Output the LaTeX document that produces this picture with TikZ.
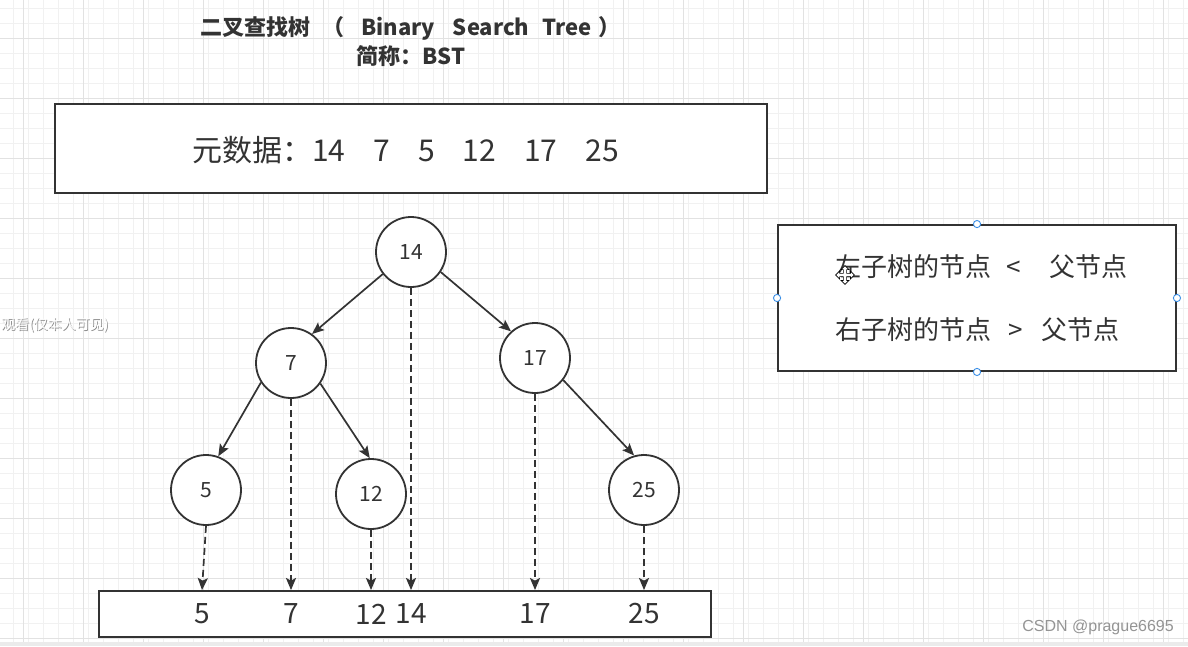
\documentclass[tikz,border=0pt]{standalone}
\usepackage{fontspec}
\setmainfont{Noto Sans CJK SC}
\newfontfamily\arialf{Liberation Sans}
\usetikzlibrary{arrows.meta}
\definecolor{ink}{HTML}{333333}
\definecolor{gridminor}{HTML}{F1F1F1}
\definecolor{gridmajor}{HTML}{E2E2E2}
\definecolor{handle}{HTML}{3A8EE6}
\begin{document}
\begin{tikzpicture}[x=1pt,y=-1pt,
  tnode/.style={circle, draw=ink, line width=1.8pt, fill=white, minimum size=70pt, inner sep=0pt, text=ink, font=\fontsize{21}{21}\selectfont},
  box/.style={draw=ink, line width=1.9pt, fill=white, inner sep=0pt},
  edge/.style={-{Stealth[length=12pt,width=10pt,inset=2.5pt]}, draw=ink, line width=1.7pt},
  dedge/.style={edge, dash pattern=on 7pt off 4pt},
  bnum/.style={text=ink, font=\fontsize{28}{28}\selectfont, inner sep=0pt},
  ttl/.style={text=ink, font=\bfseries\fontsize{22}{22}\selectfont, inner sep=0pt},
  hdl/.style={draw=handle, fill=white, line width=0.9pt}]
\useasboundingbox (0,0) rectangle (1188,646);
\fill[white] (0,0) rectangle (1188,646);
% grid
\foreach \i in {0,...,78} {\draw[gridminor, line width=0.8pt] ({13.3+15*\i},0) -- ++(0,646);}
\foreach \i in {0,...,42} {\draw[gridminor, line width=0.8pt] (0,{8.3+15*\i}) -- ++(1188,0);}
\foreach \i in {0,...,19} {\draw[gridmajor, line width=0.8pt] ({23.3+60*\i},0) -- ++(0,646);}
\foreach \i in {0,...,10} {\draw[gridmajor, line width=0.8pt] (0,{38.3+60*\i}) -- ++(1188,0);}
\fill[black!8] (0,642) rectangle (1188,646);

% title
\node[ttl, anchor=west] (title1) at (200,28) {二叉查找树\hspace{12pt}（\hspace{17pt}Binary\hspace{18pt}Search\hspace{13pt}Tree\hspace{7pt}）};
\node[ttl] (title2) at (411,56) {简称：BST};

% data box
\node[box, minimum width=712pt, minimum height=89pt] (data) at (411,148.5) {};
\node[anchor=west, text=ink, font=\fontsize{30}{30}\selectfont, inner sep=0pt] (datatext) at (192,150)
  {元数据：14\hspace{28pt}7\hspace{28pt}5\hspace{28pt}12\hspace{28pt}17\hspace{28pt}25};

% rule box
\node[box, minimum width=398pt, minimum height=146pt] (rule) at (977,298) {};
\node[anchor=west, text=ink, font=\fontsize{26}{26}\selectfont, inner sep=0pt] (rule1) at (835,267)
  {左子树的节点\hspace{15pt}<\hspace{29pt}父节点};
\node[anchor=west, text=ink, font=\fontsize{26}{26}\selectfont, inner sep=0pt] (rule2) at (835,330)
  {右子树的节点\hspace{17pt}>\hspace{19pt}父节点};
\foreach \p in {north,south,east,west} {\draw[hdl] (rule.\p) circle (3.6pt);}
% move cursor
\begin{scope}[shift={(845,275)}, scale=1.35]
\draw[fill=white, draw=black, line width=0.7pt, line join=miter]
  (0,-7) -- (3,-4) -- (1.2,-4) -- (1.2,-1.2) -- (4,-1.2) -- (4,-3) -- (7,0) -- (4,3) -- (4,1.2)
  -- (1.2,1.2) -- (1.2,4) -- (3,4) -- (0,7) -- (-3,4) -- (-1.2,4) -- (-1.2,1.2) -- (-4,1.2)
  -- (-4,3) -- (-7,0) -- (-4,-3) -- (-4,-1.2) -- (-1.2,-1.2) -- (-1.2,-4) -- (-3,-4) -- cycle;
\end{scope}

% watermark
\node[anchor=west, text=black!45, font=\fontsize{14}{14}\selectfont, inner sep=0pt] (wmshadow) at (1.8,325.8) {观看(仅本人可见)};
\node[anchor=west, text=white, font=\fontsize{14}{14}\selectfont, inner sep=0pt] (wm) at (1,325) {观看(仅本人可见)};

% tree nodes
\node[tnode] (n14) at (411,252) {14};
\node[tnode] (n7)  at (291,363) {7};
\node[tnode] (n17) at (535,358) {17};
\node[tnode] (n5)  at (206,490) {5};
\node[tnode] (n12) at (371,494) {12};
\node[tnode] (n25) at (644,490) {25};

% sorted box
\node[box, minimum width=612pt, minimum height=46pt] (sorted) at (405,614) {};
\node[bnum] (b5)  at (202,614) {5};
\node[bnum] (b7)  at (291,614) {7};
\node[bnum] (b12) at (371,614) {12};
\node[bnum] (b14) at (411,614) {14};
\node[bnum] (b17) at (535,614) {17};
\node[bnum] (b25) at (644,614) {25};

% tree edges
\draw[edge] (n14.218) -- (n7.54);
\draw[edge] (n14.326) -- (n17.132);
\draw[edge] (n7.213) -- (n5.70);
\draw[edge] (n7.325) -- (n12.92);
\draw[edge] (n17.322) -- (n25.106);

% dashed projections
\draw[dedge] (n5.south) -- (b5 |- sorted.north);
\draw[dedge] (n7.south) -- (b7 |- sorted.north);
\draw[dedge] (n12.south) -- (b12 |- sorted.north);
\draw[dedge] (n14.south) -- (b14 |- sorted.north);
\draw[dedge] (n17.south) -- (b17 |- sorted.north);
\draw[dedge] (n25.south) -- (b25 |- sorted.north);

% CSDN mark
\node[anchor=east, text=black!42, font=\arialf\fontsize{16}{16}\selectfont, inner sep=0pt] (csdn) at (1174,627) {CSDN @prague6695};
\end{tikzpicture}
\end{document}
